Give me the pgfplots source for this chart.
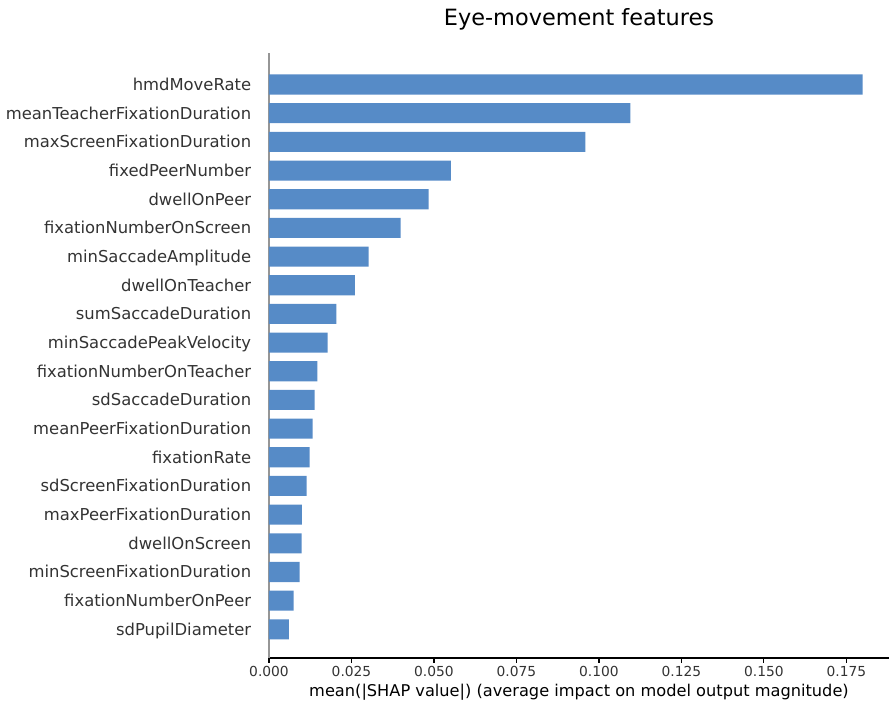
\documentclass[border=0pt]{standalone}
\usepackage{pgfplots}
\pgfplotsset{compat=1.18}
\usepackage{fontspec}
\setmainfont{DejaVu Sans}
\definecolor{shapblue}{RGB}{86,139,199}
\definecolor{labelgray}{RGB}{51,51,51}
\definecolor{spinegray}{RGB}{150,150,150}
\begin{document}
\begin{tikzpicture}
% 1px of the reference = 0.75pt; axis south west corner sits at (0,0)
\useasboundingbox (-201.75pt,-33pt) rectangle (465.75pt,493.5pt);
\begin{axis}[
    scale only axis,
    width=465pt, height=453.75pt,
    xmin=0, xmax=0.1879,
    ymin=-1, ymax=20.1,
    xbar, bar width=0.7,
    axis x line*=bottom, axis y line*=left,
    axis line style={-},
    x axis line style={black, line width=0.83pt},
    y axis line style={spinegray, line width=1.1pt},
    xtick={0,0.025,0.05,0.075,0.1,0.125,0.15,0.175},
    ytick={0,...,19},
    yticklabels={sdPupilDiameter, fixationNumberOnPeer, minScreenFixationDuration,
        dwellOnScreen, maxPeerFixationDuration, sdScreenFixationDuration,
        fixationRate, meanPeerFixationDuration, sdSaccadeDuration,
        fixationNumberOnTeacher, minSaccadePeakVelocity, sumSaccadeDuration,
        dwellOnTeacher, minSaccadeAmplitude, fixationNumberOnScreen,
        dwellOnPeer, fixedPeerNumber, maxScreenFixationDuration,
        meanTeacherFixationDuration, hmdMoveRate},
    tick align=outside,
    major tick length=3.7pt,
    x tick style={black, line width=0.83pt},
    y tick style={draw=none},
    /pgf/number format/assume math mode=true,
    xticklabel={\pgfmathprintnumber[fixed, fixed zerofill, precision=3]{\tick}},
    xticklabel style={font=\fontsize{10.35}{12}\selectfont, text=labelgray,
        inner sep=0pt, anchor=base, yshift=-10.5pt},
    yticklabel style={font=\fontsize{12.3}{14}\selectfont, text=labelgray,
        inner sep=0pt, anchor=base east, xshift=-9.5pt, yshift=-4.5pt},
    xlabel={mean(|SHAP value|) (average impact on model output magnitude)},
    xlabel style={font=\fontsize{12.15}{14}\selectfont, at={(axis description cs:0.5,0)},
        anchor=base, yshift=-29pt, inner sep=0pt},
    title={Eye-movement features},
    title style={font=\fontsize{16.8}{20}\selectfont, at={(axis description cs:0.5,1)},
        anchor=base, yshift=14.25pt, inner sep=0pt},
]
\addplot[fill=shapblue, draw=none] coordinates {
    (0.0060,0) (0.0075,1) (0.0093,2) (0.0099,3) (0.0100,4)
    (0.0114,5) (0.0123,6) (0.0132,7) (0.0138,8) (0.0147,9)
    (0.0178,10) (0.0204,11) (0.0260,12) (0.0302,13) (0.0399,14)
    (0.0484,15) (0.0551,16) (0.0959,17) (0.1095,18) (0.1799,19)
};
\end{axis}
\end{tikzpicture}
\end{document}
